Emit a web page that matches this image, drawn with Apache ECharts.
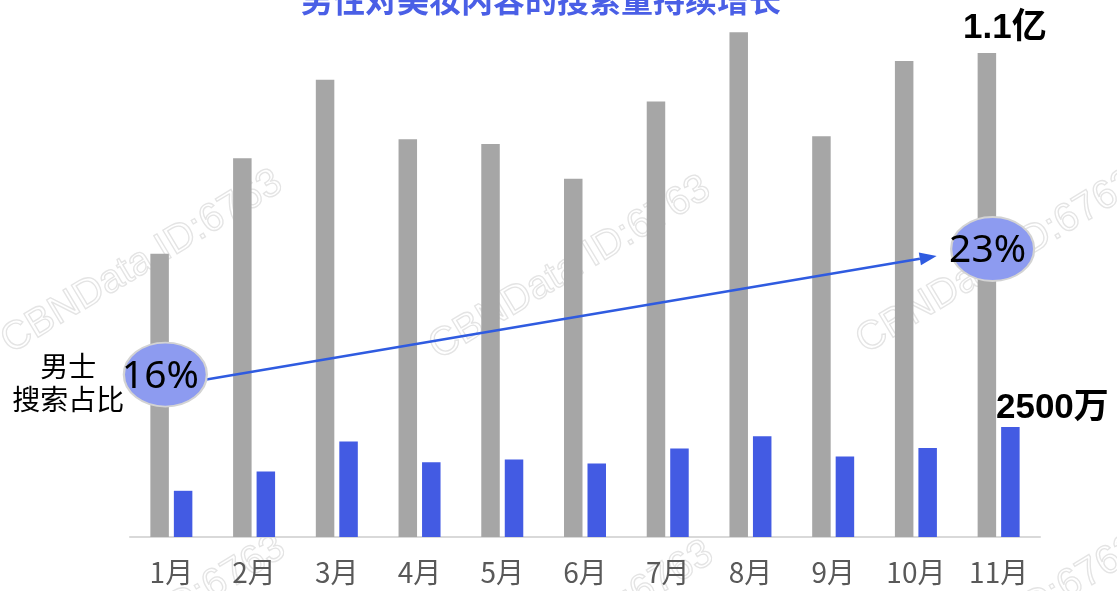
<!DOCTYPE html>
<html>
<head>
<meta charset="utf-8">
<script src="https://cdn.jsdelivr.net/npm/echarts@6/dist/echarts.min.js"></script>
<style>
  html, body { margin: 0; padding: 0; background: #ffffff; }
  #chart { width: 1117px; height: 591px; }
</style>
</head>
<body>
<div id="chart"></div>
<script>
// Monthly search volume for beauty content, in units of 万 (10k)
const months = ['1月', '2月', '3月', '4月', '5月', '6月', '7月', '8月', '9月', '10月', '11月'];
const totalSearch = [6440, 8610, 10390, 9040, 8930, 8140, 9900, 11470, 9110, 10820, 11000];
const maleSearch = [1050, 1490, 2170, 1700, 1760, 1670, 2010, 2290, 1830, 2020, 2500];
// Months whose male share is called out
const shareMonths = [0, 10];
const titleText = '男性对美妆内容的搜索量持续增长';
const shareCaption = '男士\n搜索占比';
const watermarkText = 'CBNData ID:6763';

const last = months.length - 1;
const CJK = "'Noto Sans CJK SC', sans-serif";
const BOLD_NUM = "'Liberation Sans', 'Noto Sans CJK SC', sans-serif";

const shareData = shareMonths.map(i => [i, maleSearch[i] / totalSearch[i]]);

const chart = echarts.init(document.getElementById('chart'), null, { renderer: 'canvas' });

const option = {
  animation: false,
  backgroundColor: '#ffffff',
  title: {
    text: titleText,
    left: 296,
    top: -21,
    textStyle: { color: '#4a5fe6', fontSize: 32, fontWeight: 'bold', fontFamily: CJK }
  },
  grid: { left: 130, right: 77, top: 9, bottom: 54 },
  xAxis: {
    type: 'category',
    data: months,
    axisLine: { lineStyle: { color: '#d9d9d9', width: 2 } },
    axisTick: { show: false },
    axisLabel: { color: '#595959', fontSize: 28, fontFamily: CJK, margin: 21 }
  },
  yAxis: [
    { type: 'value', min: 0, max: 12000, show: false, splitLine: { show: false } },
    { type: 'value', min: 0.08, max: 0.35, show: false, splitLine: { show: false } }
  ],
  series: [
    {
      name: '美妆内容搜索量',
      type: 'bar',
      barWidth: 18.5,
      barGap: '27%',
      itemStyle: { color: '#a6a6a6' },
      data: totalSearch.map((v, i) => i === last ? {
        value: v,
        label: {
          show: true, position: 'top', distance: 7, offset: [18, 0],
          formatter: p => (p.value / 10000).toFixed(1) + '亿',
          color: '#000000', fontSize: 35, fontWeight: 'bold', fontFamily: BOLD_NUM
        }
      } : v)
    },
    {
      name: '男士搜索量',
      type: 'bar',
      barWidth: 18.5,
      itemStyle: { color: '#435be3' },
      data: maleSearch.map((v, i) => i === last ? {
        value: v,
        label: {
          show: true, position: 'top', distance: 1, offset: [42, 0],
          formatter: p => p.value + '万',
          color: '#000000', fontSize: 35, fontWeight: 'bold', fontFamily: BOLD_NUM
        }
      } : v)
    },
    {
      name: '男士搜索占比',
      type: 'scatter',
      yAxisIndex: 1,
      symbol: 'circle',
      symbolSize: [83, 64],
      symbolOffset: [-6, 0],
      z: 5,
      itemStyle: { color: '#8d9bf0', borderColor: '#d3d3d3', borderWidth: 2, opacity: 1 },
      label: {
        show: true, position: 'inside', offset: [-5, 2],
        formatter: p => Math.round(p.value[1] * 100) + '%',
        color: '#000000', fontSize: 39, fontFamily: "'Noto Sans', sans-serif"
      },
      data: shareData
    }
  ]
};

chart.setOption(option);

// Annotations placed from the share points' pixel positions
const p0 = chart.convertToPixel({ xAxisIndex: 0, yAxisIndex: 1 }, shareData[0]);
const p1 = chart.convertToPixel({ xAxisIndex: 0, yAxisIndex: 1 }, shareData[shareData.length - 1]);
const c0 = [p0[0] - 6, p0[1]];
const c1 = [p1[0] - 6, p1[1]];

const start = [c0[0] + 41, c0[1] + 5];
const tip = [c1[0] - 56, c1[1] + 7];
const ang = Math.atan2(tip[1] - start[1], tip[0] - start[0]);
const headLen = 17, headHalf = 6.5;
const base = [tip[0] - headLen * Math.cos(ang), tip[1] - headLen * Math.sin(ang)];
const head = [
  tip,
  [base[0] + headHalf * Math.sin(ang), base[1] - headHalf * Math.cos(ang)],
  [base[0] - headHalf * Math.sin(ang), base[1] + headHalf * Math.cos(ang)]
];

// Faint outlined watermark tiles
const wmCenters = [[142, 262], [570, 268], [997, 262], [145, 627], [573, 633], [1000, 627]];
const watermarks = wmCenters.map(c => ({
  type: 'text',
  x: c[0], y: c[1],
  rotation: 31 * Math.PI / 180,
  z: -10,
  silent: true,
  style: {
    text: watermarkText,
    x: 0, y: 0,
    align: 'center', verticalAlign: 'middle',
    font: "40px 'Liberation Sans', sans-serif",
    fill: 'rgba(255,255,255,0)',
    stroke: '#e4e4e4',
    lineWidth: 1.3
  }
}));

chart.setOption({
  graphic: watermarks.concat([
    {
      type: 'line',
      z: 4,
      shape: { x1: start[0], y1: start[1], x2: base[0], y2: base[1] },
      style: { stroke: '#2f5be0', lineWidth: 2.5 }
    },
    {
      type: 'polygon',
      z: 4,
      shape: { points: head },
      style: { fill: '#2f5be0' }
    },
    {
      type: 'text',
      z: 4,
      x: c0[0] - 97,
      y: c0[1] + 8,
      style: {
        text: shareCaption,
        x: 0, y: 0,
        align: 'center', verticalAlign: 'middle',
        font: "28px 'Noto Sans CJK SC', sans-serif",
        lineHeight: 33,
        fill: '#000000'
      }
    }
  ])
});
</script>
</body>
</html>
